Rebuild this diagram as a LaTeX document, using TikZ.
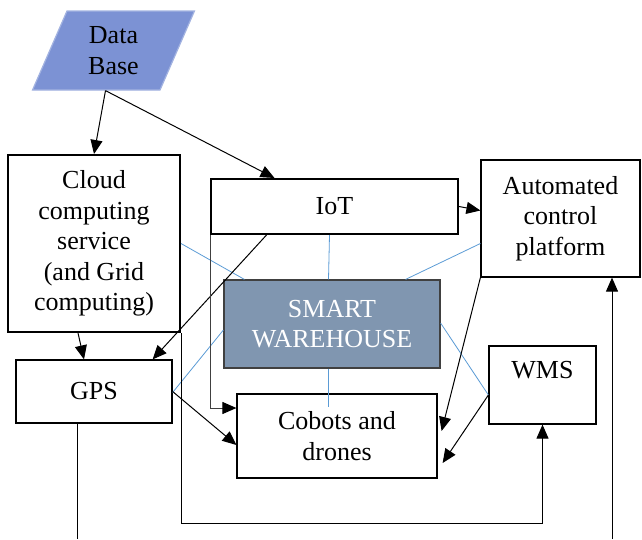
\documentclass[tikz,border=0pt]{standalone}
\usepackage{fontspec}
\setmainfont{Liberation Serif}
\usetikzlibrary{shapes.geometric,arrows.meta,calc}
\definecolor{dbblue}{RGB}{124,146,212}
\definecolor{swgray}{RGB}{128,150,176}
\definecolor{linkblue}{RGB}{91,155,213}
\begin{document}
\begin{tikzpicture}[x=1pt, y=-1pt]
            \tikzstyle{box} = [draw, line width=1.2pt, fill=white, inner sep=0pt, align=center, font=\fontsize{26}{30.5}\selectfont]
            \tikzstyle{heavy} = [box, line width=2pt]
            \tikzstyle{conn} = [line width=1pt, -{Triangle[length=14pt, width=12pt, color=black]}]
            \tikzstyle{link} = [color=linkblue, line width=0.8pt]
            \useasboundingbox (0, 0) rectangle (642, 539);

            \node[box, draw=dbblue!70!white, fill=dbblue, trapezium, trapezium left angle=68.6, trapezium right angle=111.4, trapezium stretches=true, minimum width=163, minimum height=79] (db) at (113.5, 50.5) {Data\\Base};
            \node[heavy, minimum width=172, minimum height=177] (cloud) at (94, 243.5) {Cloud\\computing\\service\\(and Grid\\computing)};
            \node[heavy, minimum width=247, minimum height=55] (iot) at (334.5, 206.5) {IoT};
            \node[box, minimum width=159, minimum height=117] (acp) at (560.5, 218.5) {Automated\\control\\platform};
            \node[box, draw=black!75, fill=swgray, text=white, minimum width=216, minimum height=88] (sw) at (332, 324) {SMART\\WAREHOUSE};
            \node[box, minimum width=156, minimum height=63] (gps) at (94, 391.5) {GPS};
            \node[box, minimum width=200, minimum height=84] (cob) at (337, 436) {Cobots and\\drones};
            \node[box, minimum width=107, minimum height=78] (wms) at (542.5, 385) {WMS\\\mbox{}};
            \coordinate (lowbus) at (0, 523);
            \coordinate (gpsend) at (77, 539);
            \coordinate (acpin) at (612, 539);

            \draw[link] (cloud.east) -- ($(sw.north west)+(21, 0)$);
            \draw[link] ($(iot.south)+(-5, 0)$) -- ($(sw.north)+(-3.5, 0)$);
            \draw[link] ($(acp.west)+(0, 25)$) -- ($(sw.north east)+(-35, 0)$);
            \draw[link] ($(gps.east)+(0, 1)$) -- ($(sw.west)+(0, 6)$);
            \draw[link] ($(sw.south)+(-4, 0)$) -- ($(cob.north)+(-9, 14)$);
            \draw[link] ($(sw.east)+(0, -1)$) -- ($(wms.west)+(0, 10)$);

            \draw[conn] ($(db.south)+(-8, 0)$) -- (cloud.north);
            \draw[conn] ($(db.south)+(-8, 0)$) -- ($(iot.north)+(-60, 0)$);
            \draw[conn] (iot.east) -- ($(acp.west)+(0, -8)$);
            \draw[conn] ($(cloud.south)+(-16, 0)$) -- ($(gps.north)+(-10, 0)$);
            \draw[conn] ($(iot.south)+(-68, 0)$) -- ($(gps.north east)+(-20, 0)$);
            \draw[conn, draw=black!75] (iot.south west) |- ($(cob.west)+(0, -28)$);
            \draw[conn] (gps.east) -- ($(cob.west)+(0, 9)$);
            \draw[conn] (cloud.south east) |- (lowbus -| wms.south) -- (wms.south);
            \draw[line width=1pt] (gpsend |- gps.south) -- (gpsend);
            \draw[conn] (acpin) -- (acpin |- acp.south);
            \draw[conn] (acp.south west) -- ($(cob.east)+(4, -5)$);
            \draw[conn] ($(wms.west)+(0, 10)$) -- ($(cob.east)+(5, 27)$);
\end{tikzpicture}
\end{document}
